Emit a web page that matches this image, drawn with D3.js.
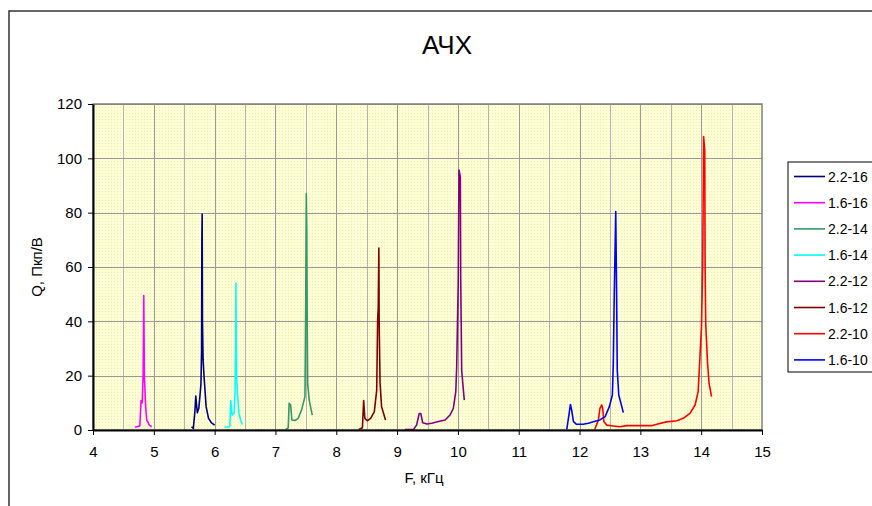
<!DOCTYPE html>
<html>
<head>
<meta charset="utf-8">
<script src="https://cdnjs.cloudflare.com/ajax/libs/d3/7.8.5/d3.min.js"></script>
<style>
    body { margin: 0; background: #fff; }
    svg { display: block; font-family: Arial, "Liberation Sans", sans-serif; }
</style>
</head>
<body>
<div id="chart"></div>
<script>
// series: [F kHz, Q]
let s22_16 = [[5.62, 1.2], [5.65, 0.6], [5.675, 6.7], [5.69, 12.5], [5.715, 6.4], [5.74, 8], [5.76, 12.9], [5.775, 17], [5.785, 29], [5.79, 70], [5.795, 79.5], [5.8, 40], [5.81, 25.8], [5.83, 18.4], [5.86, 8.6], [5.9, 4.3], [5.95, 2.6], [6.0, 1.8]];
let s16_16 = [[4.69, 1], [4.77, 1.5], [4.79, 10.8], [4.81, 10], [4.825, 20.8], [4.835, 49.5], [4.845, 20], [4.855, 14.7], [4.866, 8.6], [4.883, 3.7], [4.926, 1.8], [4.965, 1.2]];
let s22_14 = [[7.17, 0.2], [7.21, 0.8], [7.225, 9.8], [7.25, 9.2], [7.27, 3.7], [7.32, 3.5], [7.375, 4.3], [7.43, 7.4], [7.485, 12.3], [7.497, 45], [7.507, 87], [7.515, 74], [7.522, 40], [7.53, 17], [7.555, 11], [7.605, 5.5]];
let s16_14 = [[6.16, 1], [6.25, 1.2], [6.265, 10.8], [6.28, 7], [6.29, 5.5], [6.32, 6.1], [6.335, 13.5], [6.345, 30], [6.35, 54], [6.36, 20], [6.375, 13.5], [6.4, 6.1], [6.43, 3.5], [6.455, 2]];
let s22_12 = [[9.13, 0.2], [9.27, 0.2], [9.32, 1.8], [9.365, 6.1], [9.39, 6.1], [9.42, 2.7], [9.49, 2.2], [9.57, 2.5], [9.68, 3.1], [9.79, 3.7], [9.87, 5.5], [9.925, 8], [9.965, 14.1], [9.98, 23.3], [10.005, 54], [10.018, 95.7], [10.04, 93.2], [10.046, 56.4], [10.062, 22], [10.08, 17.2], [10.105, 11]];
let s16_12 = [[8.37, 0.2], [8.43, 0.8], [8.45, 10.8], [8.47, 4.3], [8.51, 3.4], [8.565, 4.3], [8.625, 6.7], [8.665, 14.7], [8.68, 40.5], [8.69, 45], [8.7, 67], [8.705, 40], [8.72, 17.2], [8.745, 8.6], [8.785, 5.5], [8.81, 3.7]];
let s22_10 = [[12.25, 0.2], [12.31, 3.7], [12.335, 8], [12.365, 9.2], [12.38, 8], [12.4, 3.1], [12.445, 1.8], [12.555, 1.5], [12.665, 1.2], [12.775, 1.6], [12.99, 1.6], [13.185, 1.6], [13.27, 2.1], [13.43, 3], [13.6, 3.4], [13.705, 4.3], [13.815, 6.1], [13.9, 9.2], [13.95, 14.1], [13.98, 27], [14.005, 38], [14.025, 61], [14.04, 108], [14.058, 103], [14.065, 60], [14.075, 39], [14.105, 24.5], [14.13, 17.2], [14.17, 12.3]];
let s16_10 = [[11.79, 0.2], [11.825, 5.5], [11.85, 9.4], [11.87, 7.4], [11.9, 3.1], [11.95, 2.1], [12.06, 2.1], [12.145, 2.5], [12.225, 3], [12.335, 3.7], [12.42, 4.9], [12.49, 8.6], [12.54, 12.9], [12.555, 24.5], [12.57, 49], [12.595, 80.4], [12.61, 49], [12.62, 22], [12.645, 12.9], [12.72, 6.4]];

let seriesNames = ["2.2-16", "1.6-16", "2.2-14", "1.6-14", "2.2-12", "1.6-12", "2.2-10", "1.6-10"];
let seriesData = [s22_16, s16_16, s22_14, s16_14, s22_12, s16_12, s22_10, s16_10];
let seriesColors = ["#000080", "#ff00ff", "#339966", "#00ffff", "#800080", "#800000", "#ff0000", "#0000ff"];

let xTicks = [4, 5, 6, 7, 8, 9, 10, 11, 12, 13, 14, 15];
let yTicks = [0, 20, 40, 60, 80, 100, 120];

let margin = { top: 104, left: 93 };
let width = 669;
let height = 326;

let svg = d3.select('#chart').append('svg')
    .attr('width', 872)
    .attr('height', 506);

// outer chart frame
svg.append('rect')
    .attr('x', 9).attr('y', 11)
    .attr('width', 880).attr('height', 520)
    .attr('fill', '#fff')
    .attr('stroke', '#333').attr('stroke-width', 1.5);

svg.append('text')
    .attr('x', 447).attr('y', 54)
    .attr('text-anchor', 'middle')
    .attr('font-size', 26)
    .text('АЧХ');

// dotted yellow background
let defs = svg.append('defs');
let pat = defs.append('pattern')
    .attr('id', 'dots')
    .attr('width', 3).attr('height', 3)
    .attr('patternUnits', 'userSpaceOnUse');
pat.append('rect').attr('width', 3).attr('height', 3).attr('fill', '#ffffd6');
pat.append('rect').attr('width', 1).attr('height', 1).attr('fill', '#eeeeb4');

let xScale = d3.scaleLinear().domain([4, 15]).range([0, width]);
let yScale = d3.scaleLinear().domain([0, 120]).range([height, 0]);

let g = svg.append('g')
    .attr('transform', 'translate(' + margin.left + ', ' + margin.top + ')');

g.append('rect')
    .attr('width', width).attr('height', height)
    .attr('fill', 'url(#dots)');

// grid
g.append('g')
    .selectAll('line').data(d3.range(4.5, 15, 0.5))
    .enter().append('line')
    .attr('x1', d => Math.round(xScale(d)) + 0.5)
    .attr('x2', d => Math.round(xScale(d)) + 0.5)
    .attr('y1', 0).attr('y2', height)
    .attr('stroke', d => (d % 1 === 0) ? '#999' : '#b4b4b4')
    .attr('stroke-width', 1);

g.append('g')
    .selectAll('line').data(yTicks.slice(1))
    .enter().append('line')
    .attr('x1', 0).attr('x2', width)
    .attr('y1', d => Math.round(yScale(d)) + 0.5)
    .attr('y2', d => Math.round(yScale(d)) + 0.5)
    .attr('stroke', '#999');

g.append('rect')
    .attr('width', width).attr('height', height)
    .attr('fill', 'none')
    .attr('stroke', '#808080').attr('stroke-width', 1.5);

// curves
let line = d3.line()
    .x(d => xScale(d[0]))
    .y(d => yScale(d[1]));

g.append('g')
    .selectAll('path').data(seriesData)
    .enter().append('path')
    .attr('d', line)
    .attr('fill', 'none')
    .attr('stroke', (d, i) => seriesColors[i])
    .attr('stroke-width', 1.6)
    .attr('stroke-linejoin', 'round');

// axes
let xAxis = d3.axisBottom(xScale).tickValues(xTicks).tickSize(5).tickPadding(11).tickSizeOuter(0);
let yAxis = d3.axisLeft(yScale).tickValues(yTicks).tickSize(5).tickPadding(6).tickSizeOuter(0);

let xg = g.append('g').attr('transform', 'translate(0, ' + height + ')').call(xAxis);
let yg = g.append('g').call(yAxis);

[xg, yg].forEach(function (a) {
    a.select('.domain').attr('stroke', '#000').attr('stroke-width', 2);
    a.selectAll('line').attr('stroke', '#000').attr('stroke-width', 1);
    a.selectAll('text').attr('font-size', 15).attr('fill', '#000')
        .attr('font-family', 'Arial, "Liberation Sans", sans-serif');
});

svg.append('text')
    .attr('transform', 'translate(42, 267) rotate(-90)')
    .attr('text-anchor', 'middle')
    .attr('font-size', 15)
    .text('Q, Пкп/В');

svg.append('text')
    .attr('x', 424).attr('y', 483)
    .attr('text-anchor', 'middle')
    .attr('font-size', 15)
    .text('F, кГц');

// legend
let legend = svg.append('g').attr('transform', 'translate(788, 162)');
legend.append('rect')
    .attr('width', 120).attr('height', 210)
    .attr('fill', '#fff')
    .attr('stroke', '#000').attr('stroke-width', 1);

let item = legend.selectAll('g.item').data(seriesNames)
    .enter().append('g')
    .attr('transform', (d, i) => 'translate(0, ' + (14.5 + i * 26.2) + ')');
item.append('line')
    .attr('x1', 6).attr('x2', 37)
    .attr('stroke', (d, i) => seriesColors[i])
    .attr('stroke-width', 1.6);
item.append('text')
    .attr('x', 40).attr('y', 5)
    .attr('font-size', 14)
    .text(d => d);
</script>
</body>
</html>
